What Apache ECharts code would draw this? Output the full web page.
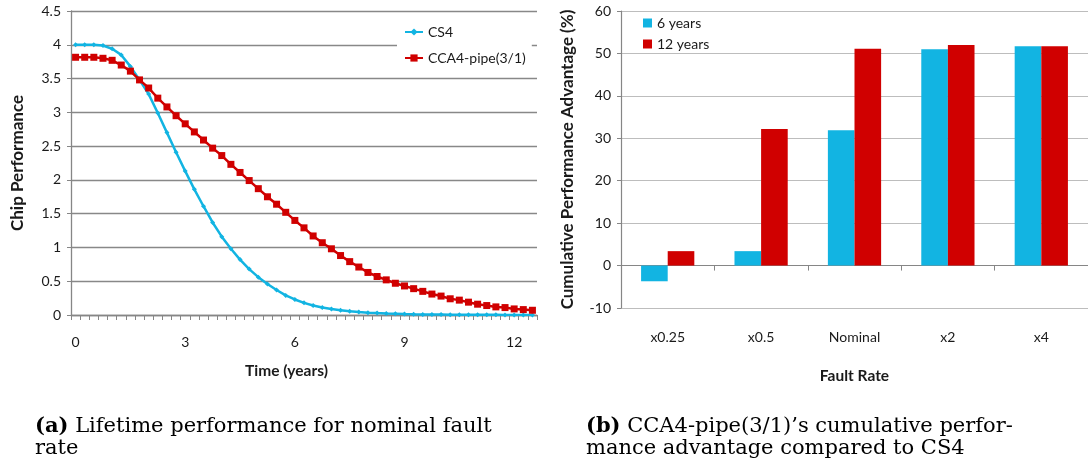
<!DOCTYPE html>
<html>
<head>
<meta charset="utf-8">
<script src="https://cdn.jsdelivr.net/npm/echarts@6/dist/echarts.min.js"></script>
<style>
html,body{margin:0;padding:0;background:#fff;}
#chart{width:1088px;height:468px;}
</style>
</head>
<body>
<div id="chart"></div>
<script>
// ---- Data: left chart (time in years, 0.25-year steps) ----
var timeLabels = ['0','0.25','0.5','0.75','1','1.25','1.5','1.75','2','2.25','2.5','2.75',
  '3','3.25','3.5','3.75','4','4.25','4.5','4.75','5','5.25','5.5','5.75',
  '6','6.25','6.5','6.75','7','7.25','7.5','7.75','8','8.25','8.5','8.75',
  '9','9.25','9.5','9.75','10','10.25','10.5','10.75','11','11.25','11.5','11.75',
  '12','12.25','12.5'];
var cs4Perf = [4.0,4.0,4.0,3.99,3.94,3.85,3.68,3.48,3.27,2.99,2.70,2.41,2.13,1.86,1.61,
  1.37,1.16,0.98,0.82,0.68,0.56,0.46,0.37,0.29,0.23,0.18,0.14,0.11,0.09,0.07,
  0.055,0.044,0.035,0.028,0.022,0.018,0.014,0.011,0.009,0.007,0.006,0.005,0.004,
  0.003,0.003,0.002,0.002,0.001,0.001,0.001,0.001];
var ccaPerf = [3.815,3.815,3.815,3.80,3.77,3.70,3.61,3.48,3.36,3.21,3.08,2.95,2.83,2.71,
  2.59,2.47,2.36,2.23,2.11,1.99,1.87,1.75,1.64,1.52,1.40,1.29,1.17,1.07,0.98,0.88,
  0.79,0.71,0.63,0.57,0.52,0.47,0.43,0.39,0.35,0.31,0.28,0.24,0.22,0.19,0.16,0.14,
  0.12,0.11,0.09,0.08,0.07];

// ---- Data: right chart ----
var faultRates = ['x0.25','x0.5','Nominal','x2','x4'];
var sixYears = [-3.7, 3.4, 31.9, 51.0, 51.7];
var twelveYears = [3.4, 32.2, 51.1, 52.0, 51.7];

var CYAN = '#12b4e2';
var RED = '#d00000';
var FONT = 'Lato, "Open Sans", sans-serif';
var SERIF = '"DejaVu Serif", "Liberation Serif", serif';
var TXT = '#1a1a1a';

var chart = echarts.init(document.getElementById('chart'), null, {renderer:'canvas'});
chart.setOption({
  animation: false,
  backgroundColor: '#fff',
  textStyle: {fontFamily: FONT},
  grid: [
    {left: 71, top: 11, width: 466, height: 304, containLabel: false},
    {left: 621, top: 11, width: 468, height: 297, containLabel: false}
  ],
  legend: [
    {
      data: ['CS4', 'CCA4-pipe(3/1)'],
      orient: 'vertical', left: 397, top: 22,
      backgroundColor: '#fff', padding: [3, 6, 3, 7],
      itemWidth: 18, itemHeight: 9, itemGap: 12,
      textStyle: {fontFamily: FONT, fontSize: 14, color: TXT}
    },
    {
      data: ['6 years', '12 years'],
      orient: 'vertical', left: 638, top: 11,
      icon: 'rect', itemWidth: 9, itemHeight: 9, itemGap: 7,
      textStyle: {fontFamily: FONT, fontSize: 14, color: TXT}
    }
  ],
  xAxis: [
    {
      type: 'category', gridIndex: 0, data: timeLabels, boundaryGap: true,
      axisLine: {lineStyle: {color: '#868686', width: 1.3}},
      axisTick: {show: true, interval: 0, length: 5, lineStyle: {color: '#868686'}},
      axisLabel: {interval: 11, margin: 20, fontSize: 14, color: TXT, fontFamily: FONT},
      splitLine: {show: false}
    },
    {
      type: 'category', gridIndex: 1, data: faultRates, position: 'bottom',
      axisLine: {onZero: true, lineStyle: {color: '#868686', width: 1.2}},
      axisTick: {show: true, interval: 0, length: 5, lineStyle: {color: '#868686'}},
      axisLabel: {show: false},
      splitLine: {show: false}
    },
    {
      type: 'category', gridIndex: 1, data: faultRates, position: 'bottom',
      axisLine: {show: false, onZero: false},
      axisTick: {show: false},
      axisLabel: {margin: 22, fontSize: 14, color: TXT, fontFamily: FONT},
      name: 'Fault Rate', nameLocation: 'middle', nameGap: 60,
      nameTextStyle: {fontWeight: 'bold', fontSize: 15.5, color: TXT, fontFamily: FONT}
    }
  ],
  yAxis: [
    {
      type: 'value', gridIndex: 0, min: 0, max: 4.5, interval: 0.5,
      axisLine: {show: true, lineStyle: {color: '#868686', width: 1.3}},
      axisTick: {show: true, length: 4, lineStyle: {color: '#868686'}},
      axisLabel: {margin: 10, fontSize: 14, color: TXT, fontFamily: FONT},
      splitLine: {lineStyle: {color: '#888888', width: 1.4}},
      name: 'Chip Performance', nameLocation: 'middle', nameGap: 45,
      nameTextStyle: {fontWeight: 'bold', fontSize: 17, color: TXT, fontFamily: FONT}
    },
    {
      type: 'value', gridIndex: 1, min: -10, max: 60, interval: 10,
      axisLine: {show: true, lineStyle: {color: '#868686', width: 1.2}},
      axisTick: {show: true, length: 4, lineStyle: {color: '#868686'}},
      axisLabel: {margin: 10, fontSize: 14, color: TXT, fontFamily: FONT},
      splitLine: {lineStyle: {color: '#bdbdbd', width: 1.2}},
      name: 'Cumulative Performance Advantage (%)', nameLocation: 'middle', nameGap: 45,
      nameTextStyle: {fontWeight: 'bold', fontSize: 17, color: TXT, fontFamily: FONT}
    }
  ],
  series: [
    {
      name: 'CS4', type: 'line', xAxisIndex: 0, yAxisIndex: 0, data: cs4Perf,
      symbol: 'diamond', symbolSize: 5, showAllSymbol: true,
      lineStyle: {color: CYAN, width: 2.5}, itemStyle: {color: CYAN}
    },
    {
      name: 'CCA4-pipe(3/1)', type: 'line', xAxisIndex: 0, yAxisIndex: 0, data: ccaPerf,
      symbol: 'rect', symbolSize: 7, showAllSymbol: true,
      lineStyle: {color: RED, width: 2.5}, itemStyle: {color: RED}
    },
    {
      name: '6 years', type: 'bar', xAxisIndex: 1, yAxisIndex: 1, data: sixYears,
      barGap: '0%', barCategoryGap: '43%', itemStyle: {color: CYAN}
    },
    {
      name: '12 years', type: 'bar', xAxisIndex: 1, yAxisIndex: 1, data: twelveYears,
      barGap: '0%', barCategoryGap: '43%', itemStyle: {color: RED}
    }
  ],
  graphic: [
    {
      type: 'text', left: 245, top: 363,
      style: {text: 'Time (years)', font: 'bold 15.5px ' + FONT, fill: TXT}
    },
    {
      type: 'text', left: 35, top: 416,
      style: {
        text: '{b|(a)} Lifetime performance for nominal fault\nrate',
        fontFamily: SERIF, fontSize: 21, lineHeight: 22, fill: '#000',
        rich: {b: {fontFamily: SERIF, fontSize: 21, fontWeight: 'bold', lineHeight: 22}}
      }
    },
    {
      type: 'text', left: 586, top: 416,
      style: {
        text: '{b|(b)} CCA4-pipe(3/1)\u2019s cumulative perfor-\nmance advantage compared to CS4',
        fontFamily: SERIF, fontSize: 21, lineHeight: 22, fill: '#000',
        rich: {b: {fontFamily: SERIF, fontSize: 21, fontWeight: 'bold', lineHeight: 22}}
      }
    }
  ]
});
</script>
</body>
</html>
